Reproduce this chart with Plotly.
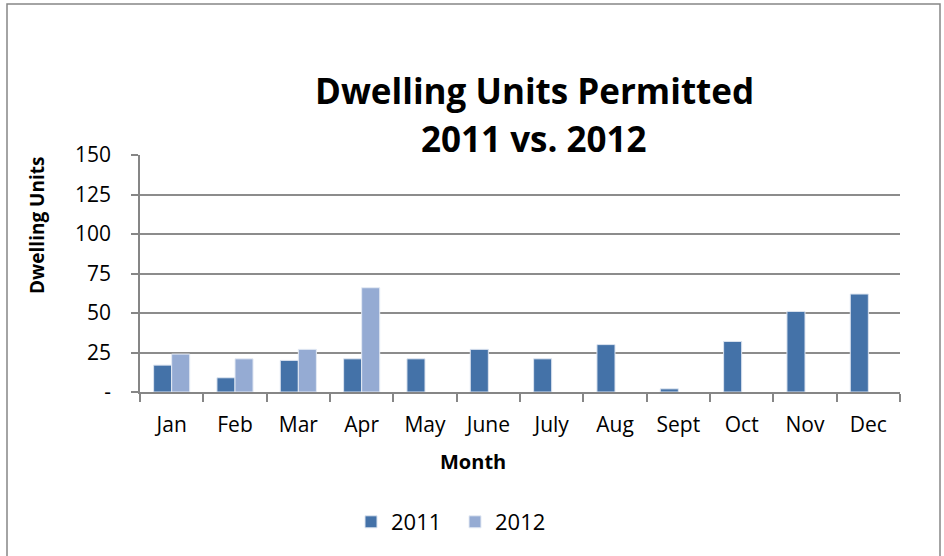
import plotly.graph_objects as go

months = ["Jan", "Feb", "Mar", "Apr", "May", "June", "July", "Aug", "Sept", "Oct", "Nov", "Dec"]
units_2011 = [17, 9, 20, 21, 21, 27, 21, 30, 2, 32, 51, 62]
units_2012 = [24, 21, 27, 66, None, None, None, None, None, None, None, None]
ytick_vals = [0, 25, 50, 75, 100, 125, 150]
ytick_text = ["-", "25", "50", "75", "100", "125", "150"]

FONT = "'Open Sans', Lato, sans-serif"

fig = go.Figure()
fig.add_trace(go.Bar(x=months, y=units_2011, name="2011",
                     marker=dict(color="#4472A8", line=dict(color="#DCE4F0", width=1))))
fig.add_trace(go.Bar(x=months, y=units_2012, name="2012",
                     marker=dict(color="#95ABD3", line=dict(color="#E4EAF4", width=1))))

W, H = 944, 556
L, R, T, B = 140, 44, 155, 164
pw, ph = W - L - R, H - T - B

def px(x):
    return (x - L) / pw

def py(y):
    return (H - B - y) / ph

fig.update_layout(
    width=W, height=H,
    margin=dict(l=L, r=R, t=T, b=B),
    paper_bgcolor="white", plot_bgcolor="white",
    font=dict(family=FONT, color="black", size=20),
    barmode="group", bargap=0.43, bargroupgap=0,
    showlegend=True,
    legend=dict(orientation="h", x=px(455), xanchor="center", y=py(522), yanchor="middle",
                font=dict(size=22, family=FONT), traceorder="normal",
                itemwidth=30, entrywidth=59, bgcolor="rgba(0,0,0,0)"),
    xaxis=dict(type="category", showgrid=False, showline=True, linecolor="#868686", linewidth=1.5,
               ticks="outside", tickson="boundaries", ticklen=8, tickcolor="#868686", tickwidth=1.5,
               tickfont=dict(size=21, family=FONT), ticklabelstandoff=13),
    yaxis=dict(range=[0, 150], tickvals=ytick_vals, ticktext=ytick_text,
               showgrid=True, gridcolor="#8C8C8C", gridwidth=1.5,
               showline=True, linecolor="#868686", linewidth=1.5,
               ticks="outside", ticklen=7, tickcolor="#868686", tickwidth=1.5,
               tickfont=dict(size=21, family=FONT), ticklabelstandoff=16, zeroline=False),
    shapes=[dict(type="rect", xref="paper", yref="paper",
                 x0=px(7), x1=px(940), y0=py(575), y1=py(4),
                 line=dict(color="#868686", width=1.5), fillcolor="rgba(0,0,0,0)", layer="below")],
    annotations=[
        dict(text="<b>Dwelling Units Permitted</b>", x=px(534), y=py(90), xref="paper", yref="paper",
             showarrow=False, font=dict(size=35, family=FONT), xanchor="center", yanchor="middle"),
        dict(text="<b>2011 vs. 2012</b>", x=px(534), y=py(138), xref="paper", yref="paper",
             showarrow=False, font=dict(size=35, family=FONT), xanchor="center", yanchor="middle"),
        dict(text="<b>Dwelling Units</b>", x=px(37), y=py(226), xref="paper", yref="paper",
             showarrow=False, textangle=-90, font=dict(size=19, family=FONT),
             xanchor="center", yanchor="middle"),
        dict(text="<b>Month</b>", x=px(473), y=py(461), xref="paper", yref="paper",
             showarrow=False, font=dict(size=20, family=FONT), xanchor="center", yanchor="middle"),
    ],
)

fig.write_html("out.html", post_script="document.body.style.margin='0';",
               config={"displayModeBar": False})
